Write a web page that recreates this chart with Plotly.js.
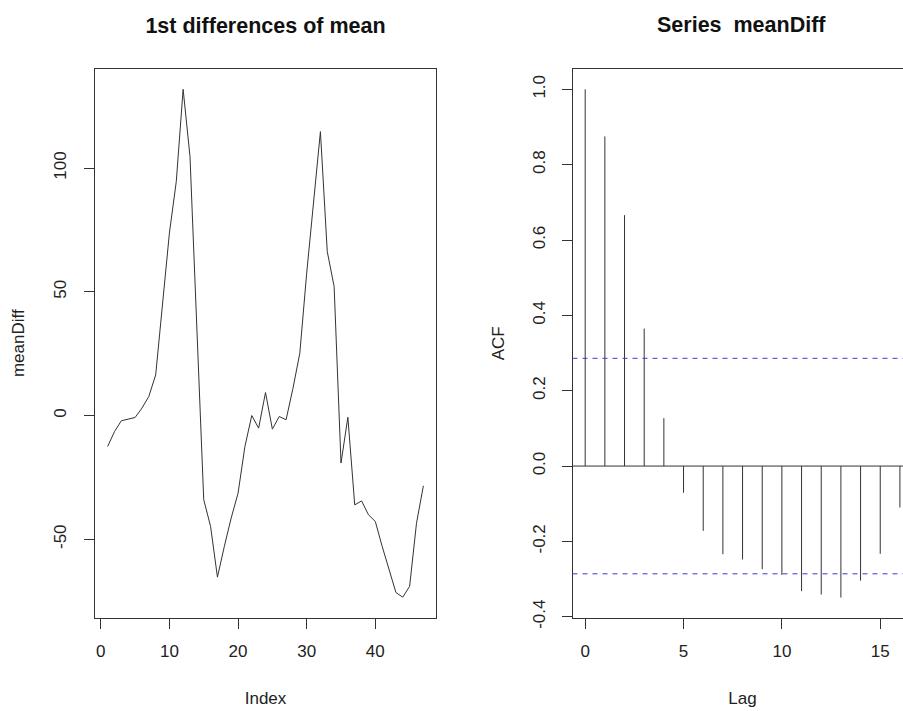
<!DOCTYPE html>
<html>
<head>
<meta charset="utf-8">
<script src="https://cdn.plot.ly/plotly-3.0.1.min.js"></script>
<style>
  html, body { margin: 0; padding: 0; overflow: hidden; background: #fff; }
  #plot { width: 930px; height: 711px; }
</style>
</head>
<body>
<div id="plot"></div>
<script>
// ---- data ----
const indexValues = [1,2,3,4,5,6,7,8,9,10,11,12,13,14,15,16,17,18,19,20,21,22,23,24,25,26,27,28,29,30,31,32,33,34,35,36,37,38,39,40,41,42,43,44,45,46,47];
const meanDiff = [-12.5, -6.5, -2.1, -1.5, -0.8, 3.0, 7.7, 16.4, 44, 73.7,
                  94.5, 131.8, 104.6, 35, -34.0, -44.8, -65.3, -52.9, -41.4, -31.4,
                  -12.5, 0, -5.1, 9.3, -5.5, -0.4, -1.7, 11, 25.2, 57.5,
                  85, 114.7, 66.2, 52.1, -19.2, -0.7, -36.1, -34.5, -40.1, -42.8,
                  -52.9, -62.3, -71.5, -73.4, -69, -43.5, -28.4];
const lags = [0,1,2,3,4,5,6,7,8,9,10,11,12,13,14,15,16];
const acfValues = [1.0, 0.875, 0.666, 0.365, 0.127, -0.071, -0.172, -0.234, -0.248, -0.274,
                   -0.289, -0.332, -0.341, -0.349, -0.304, -0.233, -0.110];
const ciBound = 0.286;

const leftXTicks = [0,10,20,30,40];
const leftXLabels = ['0','10','20','30','40'];
const leftYTicks = [-50,0,50,100];
const leftYLabels = ['-50','0','50','100'];
const rightXTicks = [0,5,10,15];
const rightXLabels = ['0','5','10','15'];
const rightYTicks = [-0.4,-0.2,0.0,0.2,0.4,0.6,0.8,1.0];
const rightYLabels = ['-0.4','-0.2','0.0','0.2','0.4','0.6','0.8','1.0'];

// ---- build spike coordinates for the ACF (type 'h') ----
const spikeX = [], spikeY = [];
lags.forEach((l, i) => { spikeX.push(l, l, null); spikeY.push(0, acfValues[i], null); });

const W = 930, H = 711;
const FONT = '"Liberation Sans", Arial, Helvetica, sans-serif';
const INK = '#222';
const LINE = '#333';

const traces = [
  { x: indexValues, y: meanDiff, type: 'scatter', mode: 'lines',
    line: { color: LINE, width: 1 }, xaxis: 'x', yaxis: 'y', hoverinfo: 'x+y' },
  { x: spikeX, y: spikeY, type: 'scatter', mode: 'lines',
    line: { color: LINE, width: 1 }, xaxis: 'x2', yaxis: 'y2', hoverinfo: 'skip' }
];

const yDom = [1 - 617.5 / H, 1 - 69 / H];
const baseAxis = {
  showgrid: false, zeroline: false, showline: true, mirror: true,
  linecolor: LINE, linewidth: 1, ticks: 'outside', ticklen: 10,
  tickcolor: LINE, tickwidth: 1,
  tickfont: { family: FONT, size: 17, color: INK },
  title: { font: { family: FONT, size: 17, color: INK } }
};

function ax(extra) { return Object.assign(JSON.parse(JSON.stringify(baseAxis)), extra); }

const layout = {
  width: W, height: H,
  margin: { l: 0, r: 0, t: 0, b: 0 },
  paper_bgcolor: '#fff', plot_bgcolor: '#fff',
  showlegend: false,
  font: { family: FONT, color: INK },
  title: { text: '<b>1st differences of mean</b>',
           font: { family: FONT, size: 21.5, color: '#111' },
           x: 265.5 / W, xanchor: 'center', xref: 'paper',
           y: 1 - 25 / H, yanchor: 'middle', yref: 'paper' },
  xaxis: ax({ domain: [95 / W, 436 / W], range: [-0.84, 48.84],
              tickmode: 'array', tickvals: leftXTicks, ticktext: leftXLabels, ticklabelstandoff: 8,
              title: { text: 'Index', standoff: 32,
                       font: { family: FONT, size: 17, color: INK } },
              anchor: 'y' }),
  yaxis: ax({ domain: yDom, range: [-81.6, 140.0],
              tickmode: 'array', tickvals: leftYTicks, ticktext: leftYLabels,
              tickangle: -90, ticklabelstandoff: 11,
              title: { text: 'meanDiff', standoff: 22,
                       font: { family: FONT, size: 17, color: INK } },
              anchor: 'x' }),
  xaxis2: ax({ domain: [572.5 / W, 912.6 / W], range: [-0.645, 16.645],
               tickmode: 'array', tickvals: rightXTicks, ticktext: rightXLabels, ticklabelstandoff: 8,
               title: { text: 'Lag', standoff: 32,
                        font: { family: FONT, size: 17, color: INK } },
               anchor: 'y2' }),
  yaxis2: ax({ domain: yDom, range: [-0.402, 1.054],
               tickmode: 'array', tickvals: rightYTicks, ticktext: rightYLabels,
               tickangle: -90, ticklabelstandoff: 10,
               title: { text: 'ACF', standoff: 20,
                        font: { family: FONT, size: 17, color: INK } },
               anchor: 'x2' }),
  shapes: [
    { type: 'line', xref: 'x2 domain', yref: 'y2', x0: 0, x1: 1, y0: 0, y1: 0,
      line: { color: LINE, width: 1 } },
    { type: 'line', xref: 'x2 domain', yref: 'y2', x0: 0, x1: 1, y0: ciBound, y1: ciBound,
      line: { color: '#3b3bd6', width: 1, dash: '5px,5px' } },
    { type: 'line', xref: 'x2 domain', yref: 'y2', x0: 0, x1: 1, y0: -ciBound, y1: -ciBound,
      line: { color: '#3b3bd6', width: 1, dash: '5px,5px' } }
  ],
  annotations: [
    { text: '<b>Series \u00a0meanDiff</b>', xref: 'paper', yref: 'paper',
      x: 741 / W, y: 1 - 25 / H, xanchor: 'center', yanchor: 'middle',
      showarrow: false, font: { family: FONT, size: 21.5, color: '#111' } }
  ]
};

Plotly.newPlot('plot', traces, layout, { displayModeBar: false, staticPlot: true });
</script>
</body>
</html>
